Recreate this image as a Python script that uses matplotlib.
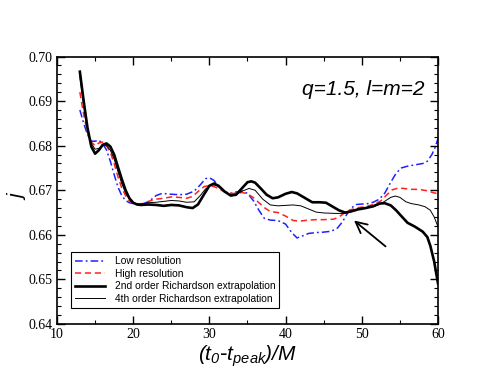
import matplotlib
matplotlib.use("Agg")
import matplotlib.pyplot as plt
from matplotlib.ticker import MultipleLocator, FormatStrFormatter

plt.rcParams["mathtext.fontset"] = "custom"
plt.rcParams["mathtext.it"] = "Liberation Sans:italic"
plt.rcParams["mathtext.rm"] = "Liberation Sans:italic"

# ---- data ----
x_low = [13.0, 13.5, 14.0, 14.5, 15.0, 15.5, 16.0, 16.5, 17.0, 17.5, 18.0, 18.5, 19.0, 19.5, 20.0,
         21.0, 22.0, 23.0, 23.8, 25.0, 26.0, 27.0, 28.0, 28.8, 29.5, 30.0, 30.6, 31.3, 32.0, 32.8,
         33.5, 34.3, 35.0, 35.8, 36.5, 37.2, 38.0, 39.0, 40.0, 40.8, 41.5, 42.3, 43.0, 44.0, 45.0,
         46.0, 46.8, 47.5, 48.0, 48.6, 49.3, 50.0, 50.8, 51.5, 52.3, 53.0, 53.8, 54.5, 55.2, 56.0,
         57.0, 58.0, 58.6, 59.2, 59.6, 60.0]
j_low = [0.6880, 0.6850, 0.6825, 0.6810, 0.6810, 0.6812, 0.6805, 0.6790, 0.6765, 0.6735, 0.6707,
         0.6688, 0.6677, 0.6672, 0.6670, 0.6668, 0.6674, 0.6688, 0.6693, 0.6691, 0.6690, 0.6691,
         0.6698, 0.6712, 0.6726, 0.6728, 0.6722, 0.6707, 0.6696, 0.6693, 0.6696, 0.6698, 0.6693,
         0.6676, 0.6655, 0.6637, 0.6633, 0.6632, 0.6624, 0.6605, 0.6593, 0.6598, 0.6603, 0.6605,
         0.6606, 0.6608, 0.6615, 0.6630, 0.6645, 0.6660, 0.6668, 0.6669, 0.6670, 0.6673, 0.6680,
         0.6693, 0.6718, 0.6738, 0.6750, 0.6754, 0.6757, 0.6760, 0.6765, 0.6780, 0.6795, 0.6816]

x_high = [13.0, 13.5, 14.0, 14.5, 15.0, 15.5, 16.0, 16.5, 17.0, 17.5, 18.0, 18.5, 19.0, 19.5, 20.0,
          21.0, 22.0, 23.0, 24.0, 25.0, 26.0, 27.0, 27.8, 28.5, 29.3, 30.0, 30.8, 31.8, 32.8, 33.5,
          34.3, 35.0, 35.8, 36.5, 37.3, 38.0, 39.0, 40.0, 41.0, 42.0, 43.0, 44.0, 45.0, 46.3, 47.0,
          47.8, 48.5, 49.5, 50.5, 51.5, 52.5, 53.3, 54.0, 54.8, 55.5, 56.5, 57.5, 58.5, 59.3, 60.0]
j_high = [0.6920, 0.6870, 0.6830, 0.6808, 0.6800, 0.6806, 0.6808, 0.6800, 0.6785, 0.6760, 0.6730,
          0.6705, 0.6688, 0.6676, 0.6671, 0.6669, 0.6675, 0.6680, 0.6682, 0.6685, 0.6684, 0.6682,
          0.6686, 0.6697, 0.6708, 0.6711, 0.6707, 0.6698, 0.6693, 0.6693, 0.6695, 0.6692, 0.6683,
          0.6672, 0.6660, 0.6652, 0.6650, 0.6642, 0.6632, 0.6631, 0.6633, 0.6634, 0.6634, 0.6635,
          0.6640, 0.6650, 0.6656, 0.6661, 0.6663, 0.6668, 0.6676, 0.6690, 0.6701, 0.6705, 0.6704,
          0.6702, 0.6702, 0.6699, 0.6695, 0.6692]

x_rich2 = [13.0, 13.5, 14.0, 14.5, 15.0, 15.5, 16.0, 16.5, 17.0, 17.5, 18.0, 18.5, 19.0, 19.5, 20.0,
           20.5, 21.0, 22.0, 23.0, 24.0, 25.0, 26.0, 27.0, 27.8, 28.5, 29.2, 30.0, 30.6, 31.2, 32.0,
           32.8, 33.5, 34.2, 35.0, 35.5, 36.0, 36.8, 37.5, 38.3, 39.0, 40.0, 40.8, 41.5, 42.5, 43.5,
           44.5, 45.3, 46.0, 47.0, 47.8, 48.5, 49.5, 50.5, 51.5, 52.3, 53.0, 53.8, 54.5, 55.3, 56.0,
           57.0, 58.0, 58.6, 59.0, 59.5, 60.0]
j_rich2 = [0.6966, 0.6900, 0.6840, 0.6798, 0.6782, 0.6790, 0.6802, 0.6805, 0.6798, 0.6780, 0.6752,
           0.6725, 0.6700, 0.6682, 0.6672, 0.6668, 0.6667, 0.6668, 0.6667, 0.6665, 0.6667, 0.6666,
           0.6662, 0.6660, 0.6668, 0.6688, 0.6710, 0.6715, 0.6710, 0.6697, 0.6688, 0.6690, 0.6703,
           0.6718, 0.6720, 0.6717, 0.6703, 0.6690, 0.6682, 0.6684, 0.6692, 0.6696, 0.6693, 0.6683,
           0.6673, 0.6673, 0.6672, 0.6665, 0.6655, 0.6650, 0.6652, 0.6657, 0.6660, 0.6664, 0.6670,
           0.6671, 0.6666, 0.6655, 0.6640, 0.6627, 0.6618, 0.6607, 0.6595, 0.6575, 0.6540, 0.6491]

x_rich4 = [13.0, 13.5, 14.0, 14.5, 15.0, 15.5, 16.0, 16.5, 17.0, 17.5, 18.0, 18.5, 19.0, 19.5, 20.0,
           20.5, 21.0, 22.0, 23.0, 24.0, 25.0, 26.0, 27.0, 28.0, 28.8, 29.5, 30.3, 31.0, 32.0, 32.8,
           33.5, 34.3, 35.2, 36.0, 37.0, 38.0, 39.0, 40.0, 41.0, 42.0, 43.0, 44.0, 45.0, 46.5, 47.8,
           48.5, 49.5, 50.5, 51.5, 52.3, 53.0, 53.8, 54.4, 55.0, 55.8, 56.5, 57.5, 58.3, 59.0, 59.5,
           60.0]
j_rich4 = [0.6955, 0.6890, 0.6838, 0.6805, 0.6792, 0.6794, 0.6800, 0.6800, 0.6790, 0.6770, 0.6742,
           0.6715, 0.6694, 0.6680, 0.6672, 0.6669, 0.6669, 0.6672, 0.6673, 0.6675, 0.6677, 0.6676,
           0.6673, 0.6674, 0.6688, 0.6703, 0.6713, 0.6710, 0.6697, 0.6689, 0.6690, 0.6698, 0.6704,
           0.6700, 0.6680, 0.6667, 0.6665, 0.6666, 0.6667, 0.6665, 0.6658, 0.6651, 0.6649, 0.6648,
           0.6648, 0.6652, 0.6658, 0.6661, 0.6663, 0.6668, 0.6675, 0.6684, 0.6687, 0.6684, 0.6674,
           0.6670, 0.6667, 0.6663, 0.6655, 0.6640, 0.6618]

labels = ["Low resolution", "High resolution",
          "2nd order Richardson extrapolation", "4th order Richardson extrapolation"]
title_text = "q=1.5, l=m=2"

# ---- figure ----
fig = plt.figure(figsize=(4.94, 3.82), dpi=100)
ax = fig.add_axes([0.1154, 0.152, 0.7712, 0.700])

ax.plot(x_low, j_low, color="#2020ff", lw=1.1, dashes=(5, 2, 1.2, 2), label=labels[0])
ax.plot(x_high, j_high, color="#ff2020", lw=1.1, dashes=(4, 2.5), label=labels[1])
ax.plot(x_rich2, j_rich2, color="black", lw=1.9, label=labels[2])
ax.plot(x_rich4, j_rich4, color="black", lw=0.7, label=labels[3])

ax.set_xlim(10, 60)
ax.set_ylim(0.64, 0.70)
ax.xaxis.set_major_locator(MultipleLocator(10))
ax.xaxis.set_minor_locator(MultipleLocator(5))
ax.yaxis.set_major_locator(MultipleLocator(0.01))
ax.yaxis.set_minor_locator(MultipleLocator(0.002))
ax.yaxis.set_major_formatter(FormatStrFormatter("%.2f"))
ax.tick_params(which="both", direction="in", top=True, right=True)
ax.tick_params(which="major", length=6, width=1)
ax.tick_params(which="minor", length=3, width=0.8)
for lab in ax.get_xticklabels() + ax.get_yticklabels():
    lab.set_family("Liberation Serif")
    lab.set_fontsize(10)
ax.tick_params(axis="x", pad=3)
for sp in ax.spines.values():
    sp.set_linewidth(1.2)

ax.set_xlabel(r"$(t_0$-$t_{peak})/M$", fontsize=15, labelpad=2)
ax.set_ylabel(r"$j$", fontsize=15)
ax.yaxis.set_label_coords(-0.075, 0.48)

ax.text(58.2, 0.6925, title_text, ha="right", va="center", fontsize=15,
        style="italic", family="Liberation Sans")

ax.annotate("", xy=(48.7, 0.6636), xytext=(53.4, 0.6570),
            arrowprops=dict(arrowstyle="->", color="black", lw=1.3,
                            mutation_scale=20))

leg = ax.legend(loc="lower left", bbox_to_anchor=(0.022, 0.04),
                frameon=True, fancybox=False, edgecolor="black", framealpha=1,
                handlelength=3.0, borderpad=0.4, labelspacing=0.25, handletextpad=0.9,
                prop={"family": "Liberation Sans", "size": 7.4})
leg.get_frame().set_linewidth(0.8)

fig.savefig("out.png", dpi=100)
